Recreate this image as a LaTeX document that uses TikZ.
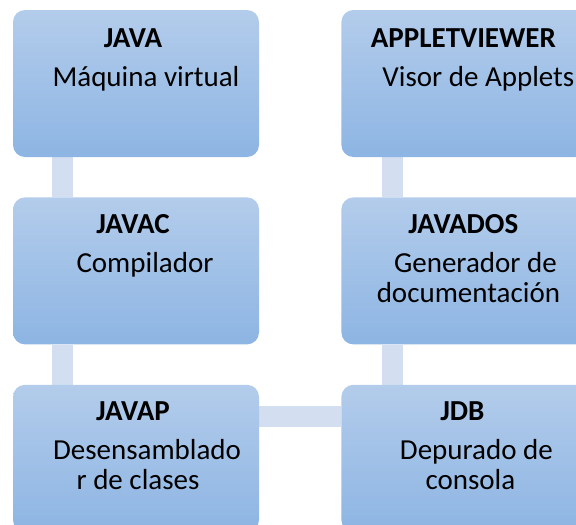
\documentclass[tikz,border=0pt]{standalone}
\usepackage{fontspec}
\setmainfont{Carlito}
\usetikzlibrary{positioning,backgrounds}

\definecolor{boxtop}{RGB}{179,204,235}
\definecolor{boxbottom}{RGB}{141,181,227}
\definecolor{linkblue}{RGB}{211,223,240}

\tikzset{
	tool/.style={rectangle, rounded corners=12pt, minimum width=246pt, minimum height=147pt, inner sep=0pt, top color=boxtop, bottom color=boxbottom},
	tooltitle/.style={anchor=base, font=\fontsize{29}{30}\selectfont\bfseries},
	tooldesc/.style={anchor=base, align=center, font=\fontsize{29}{30}\selectfont},
	link/.style={draw=linkblue, line width=21pt}
}

\begin{document}
\begin{tikzpicture}[x=1pt,y=-1pt]
	\useasboundingbox (0,0) rectangle (576,525);
	
	% cajas
	\node[tool] (java) at (136,83.5) {};
	\node[tool, below=40pt of java] (javac) {};
	\node[tool, below=40pt of javac] (javap) {};
	\node[tool, right=82pt of java] (viewer) {};
	\node[tool, right=82pt of javac] (javados) {};
	\node[tool, right=82pt of javap] (jdb) {};
	
	% textos
	\node[tooltitle] (javaT) at ([xshift=-3pt,yshift=-38pt]java.north) {JAVA};
	\node[tooldesc] (javaD) at ([xshift=10pt,yshift=-77pt]java.north) {Máquina virtual};
	\node[tooltitle] (viewerT) at ([xshift=-1pt,yshift=-38pt]viewer.north) {APPLETVIEWER};
	\node[tooldesc] (viewerD) at ([xshift=14pt,yshift=-77pt]viewer.north) {Visor de Applets};
	\node[tooltitle] (javacT) at ([xshift=-3pt,yshift=-36pt]javac.north) {JAVAC};
	\node[tooldesc] (javacD) at ([xshift=9pt,yshift=-75pt]javac.north) {Compilador};
	\node[tooltitle] (javadosT) at ([xshift=-1pt,yshift=-36pt]javados.north) {JAVADOS};
	\node[tooldesc] (javadosD) at ([xshift=4pt,yshift=-105pt]javados.north) {\hspace*{14pt}Generador de\\documentación};
	\node[tooltitle] (javapT) at ([xshift=-3pt,yshift=-36pt]javap.north) {JAVAP};
	\node[tooldesc] (javapD) at ([xshift=2pt,yshift=-105pt]javap.north) {\hspace*{18pt}Desensamblado\\r de clases};
	\node[tooltitle] (jdbT) at ([xshift=-2pt,yshift=-36pt]jdb.north) {JDB};
	\node[tooldesc] (jdbD) at ([xshift=6pt,yshift=-105pt]jdb.north) {\hspace*{12pt}Depurado de\\consola};
	
	% conexiones
	\begin{scope}[on background layer]
		\draw[link] ([xshift=50pt]java.south west) -- ([xshift=50pt]javac.north west);
		\draw[link] ([xshift=50pt]javac.south west) -- ([xshift=50pt]javap.north west);
		\draw[link] ([xshift=51pt]viewer.south west) -- ([xshift=51pt]javados.north west);
		\draw[link] ([xshift=51pt]javados.south west) -- ([xshift=51pt]jdb.north west);
		\draw[link] ([yshift=-32pt]javap.north east) -- ([yshift=-32pt]jdb.north west);
	\end{scope}
\end{tikzpicture}
\end{document}
